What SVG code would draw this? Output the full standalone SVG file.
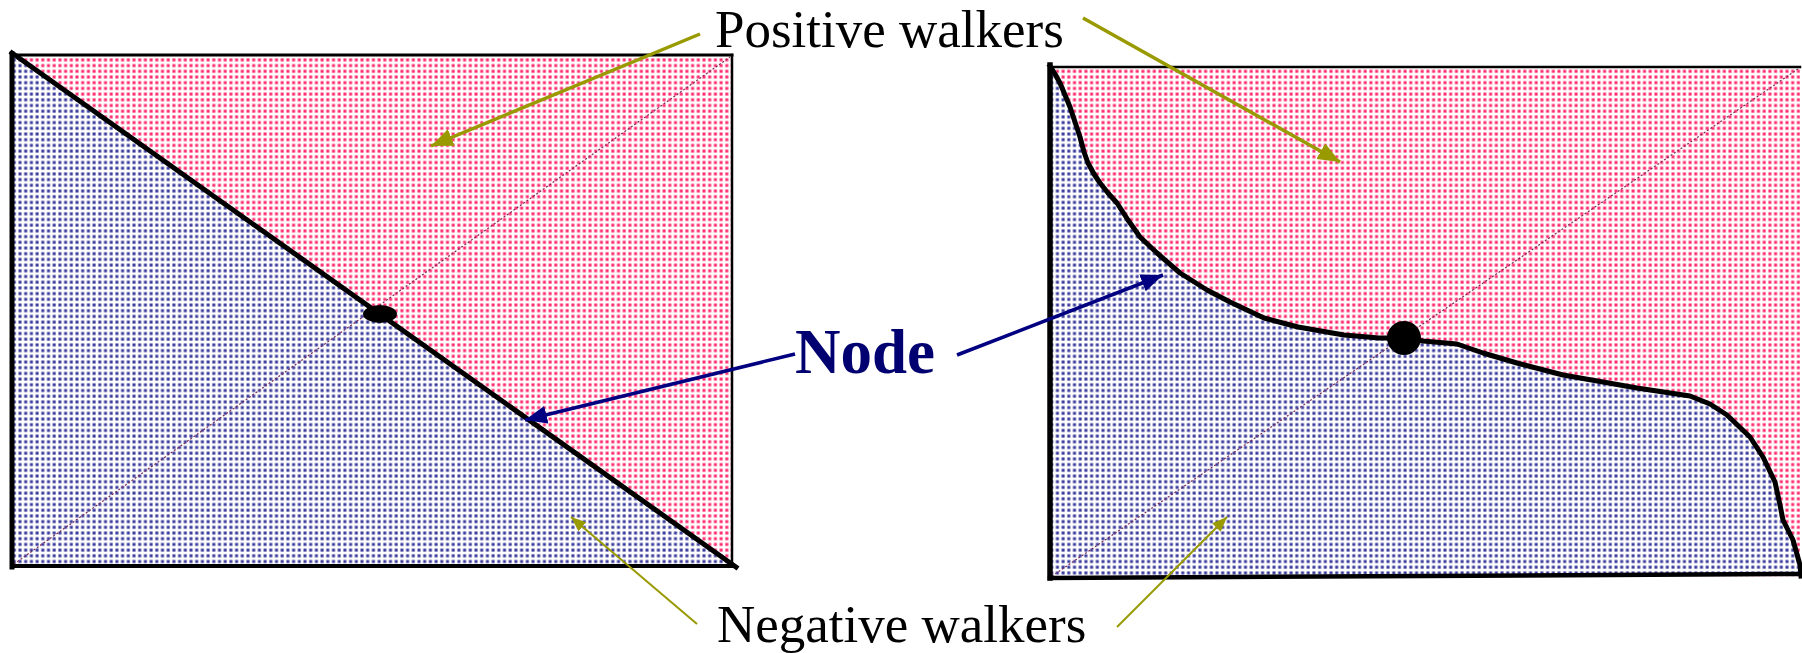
<svg xmlns="http://www.w3.org/2000/svg" width="1802" height="653" viewBox="0 0 1802 653">
<style>
.pos{fill:url(#pinkDots)}
.neg{fill:url(#blueDots)}
.edge{stroke:#000;fill:none;stroke-linecap:square}
.diag{stroke:#7a2a55;stroke-width:1.2;stroke-dasharray:2 2;fill:none}
.olive{stroke:#999900;fill:none}
.navy{stroke:#000080;fill:none;stroke-width:3.5}
.lbl{font-family:"Liberation Serif","Times New Roman",serif;font-size:53px;fill:#000}
.node{font-family:"Liberation Serif","Times New Roman",serif;font-size:63px;font-weight:bold;fill:#000070}
</style>
<defs>
<pattern id="pinkDots" patternUnits="userSpaceOnUse" width="5.7" height="5.7">
<rect x="1.4" y="1.4" width="3" height="3" fill="#ff2a6d"/>
</pattern>
<pattern id="blueDots" patternUnits="userSpaceOnUse" width="5.7" height="5.7">
<rect x="1.4" y="1.4" width="3" height="3" fill="#3a3a9c"/>
</pattern>
<path id="curveLine" d="M1050,66 L1055,74 L1060,83 L1065,95 L1070,107 L1075,122 L1080,137 L1084,152 L1088,163 L1094,174 L1100,183 L1108,193 L1117,203 L1128,220 L1140,237 L1157,253 L1180,273 L1207,290 L1230,302 L1247,310 L1264,318 L1298,327 L1344,335 L1379,338 L1404,338 L1423,341 L1457,344 L1483,353 L1517,363 L1563,375 L1603,382 L1637,388 L1690,396 L1710,404 L1727,415 L1750,437 L1763,457 L1775,482 L1780,505 L1783,520 L1793,540 L1800,565 L1801,576"/>
<marker id="headOlive" markerUnits="userSpaceOnUse" markerWidth="24" markerHeight="20" refX="22" refY="9" orient="auto">
<path d="M0,0 L22,9 L0,18 Z" fill="#999900"/>
</marker>
<marker id="headOliveS" markerUnits="userSpaceOnUse" markerWidth="16" markerHeight="14" refX="15" refY="6" orient="auto">
<path d="M0,0 L15,6 L0,12 Z" fill="#999900"/>
</marker>
<marker id="headNavy" markerUnits="userSpaceOnUse" markerWidth="24" markerHeight="20" refX="22" refY="9" orient="auto">
<path d="M0,0 L22,9 L0,18 Z" fill="#000080"/>
</marker>
</defs>

<g id="left-panel">
<polygon class="pos" points="12,55 732,55 732,566"/>
<polygon class="neg" points="12,55 12,566 732,566"/>
<line class="diag" x1="14" y1="564" x2="730" y2="57"/>
<line class="edge" x1="12" y1="53" x2="736" y2="567" stroke-width="5"/>
<line class="edge" x1="12" y1="55" x2="732" y2="55" stroke-width="3"/>
<line class="edge" x1="12" y1="54" x2="12" y2="567" stroke-width="5"/>
<line class="edge" x1="12" y1="566" x2="734" y2="566" stroke-width="4"/>
<line class="edge" x1="732" y1="55" x2="732" y2="566" stroke-width="2.5"/>
</g>
<g id="left-node">
<ellipse cx="380" cy="314" rx="17" ry="9" fill="#000"/>
</g>

<g id="right-panel">
<rect class="pos" x="1050" y="67" width="750" height="510"/>
<path fill="#fff" d="M1050,67 L1055,74 L1060,83 L1065,95 L1070,107 L1075,122 L1080,137 L1084,152 L1088,163 L1094,174 L1100,183 L1108,193 L1117,203 L1128,220 L1140,237 L1157,253 L1180,273 L1207,290 L1230,302 L1247,310 L1264,318 L1298,327 L1344,335 L1379,338 L1404,338 L1423,341 L1457,344 L1483,353 L1517,363 L1563,375 L1603,382 L1637,388 L1690,396 L1710,404 L1727,415 L1750,437 L1763,457 L1775,482 L1780,505 L1783,520 L1793,540 L1800,565 L1800,575 L1050,578 Z"/>
<path class="neg" d="M1050,67 L1055,74 L1060,83 L1065,95 L1070,107 L1075,122 L1080,137 L1084,152 L1088,163 L1094,174 L1100,183 L1108,193 L1117,203 L1128,220 L1140,237 L1157,253 L1180,273 L1207,290 L1230,302 L1247,310 L1264,318 L1298,327 L1344,335 L1379,338 L1404,338 L1423,341 L1457,344 L1483,353 L1517,363 L1563,375 L1603,382 L1637,388 L1690,396 L1710,404 L1727,415 L1750,437 L1763,457 L1775,482 L1780,505 L1783,520 L1793,540 L1800,565 L1800,575 L1050,578 Z"/>
<line class="diag" x1="1052" y1="576" x2="1798" y2="69"/>
<use href="#curveLine" class="edge" stroke-width="5" stroke-linejoin="round"/>
<line class="edge" x1="1050" y1="67" x2="1800" y2="67" stroke-width="2.5"/>
<line class="edge" x1="1050" y1="65" x2="1050" y2="578" stroke-width="5.5"/>
<line class="edge" x1="1050" y1="578" x2="1800" y2="574" stroke-width="4.5"/>
</g>
<g id="right-node">
<circle cx="1404" cy="338" r="17" fill="#000"/>
</g>

<g id="connectors">
<line class="olive" stroke-width="3.5" x1="700" y1="34" x2="431" y2="146" marker-end="url(#headOlive)"/>
<line class="olive" stroke-width="3.5" x1="1083" y1="18" x2="1340" y2="162" marker-end="url(#headOlive)"/>
<line class="olive" stroke-width="2" x1="697" y1="624" x2="571" y2="517" marker-end="url(#headOliveS)"/>
<line class="olive" stroke-width="2" x1="1117" y1="627" x2="1227" y2="517" marker-end="url(#headOliveS)"/>
<line class="navy" x1="795" y1="354" x2="525" y2="420" marker-end="url(#headNavy)"/>
<line class="navy" x1="957" y1="355" x2="1163" y2="275" marker-end="url(#headNavy)"/>
</g>

<g id="labels">
<text class="lbl" x="715" y="47">Positive walkers</text>
<text class="lbl" x="717" y="642">Negative walkers</text>
<text class="node" x="795" y="373">Node</text>
</g>
</svg>
